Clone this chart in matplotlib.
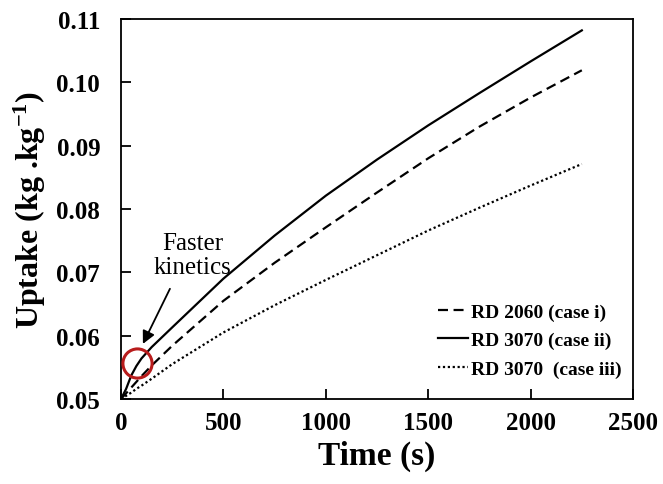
# Uptake vs time for three RD cases
import matplotlib
matplotlib.use("Agg")
import matplotlib.pyplot as plt

plt.rcParams["font.family"] = "Liberation Serif"
plt.rcParams["mathtext.fontset"] = "custom"
plt.rcParams["mathtext.rm"] = "Liberation Serif:bold"
plt.rcParams["mathtext.it"] = "Liberation Serif:bold"
plt.rcParams["mathtext.bf"] = "Liberation Serif:bold"

# ---------------- data ----------------
t = [0, 25, 50, 75, 100, 150, 250, 500, 750, 1000, 1250, 1500, 1750, 2000, 2250]

uptake_case_i = [0.0500, 0.0509, 0.0518, 0.0527, 0.0536, 0.0553, 0.0584, 0.0655,
                 0.0715, 0.0771, 0.0826, 0.0880, 0.0930, 0.0976, 0.1019]
uptake_case_ii = [0.0500, 0.0516, 0.0537, 0.0552, 0.0564, 0.0582, 0.0613, 0.0690,
                  0.0758, 0.0821, 0.0878, 0.0932, 0.0983, 0.1033, 0.1082]
uptake_case_iii = [0.0500, 0.0505, 0.0510, 0.0516, 0.0521, 0.0532, 0.0555, 0.0605,
                   0.0648, 0.0688, 0.0727, 0.0766, 0.0802, 0.0837, 0.0871]

labels = ["RD 2060 (case i)", "RD 3070 (case ii)", "RD 3070  (case iii)"]

x_ticks = [0, 500, 1000, 1500, 2000, 2500]
y_ticks = [0.05, 0.06, 0.07, 0.08, 0.09, 0.10, 0.11]

circle_pt = (78, 0.0557)

# ---------------- figure ----------------
fig = plt.figure(figsize=(6.63, 4.85), dpi=100)
ax = fig.add_axes([0.1825, 0.1753, 0.7723, 0.7835])

ax.plot(t, uptake_case_i, color="black", lw=1.6, dashes=(4.5, 2.5), label=labels[0])
ax.plot(t, uptake_case_ii, color="black", lw=1.6, label=labels[1])
ax.plot(t, uptake_case_iii, color="black", lw=1.6, dashes=(1, 1.2), label=labels[2])

# red circle marking the fast initial uptake
ax.plot(*circle_pt, "o", ms=21, mfc="none", mec="#b81c1c", mew=2.2, zorder=5)

ax.annotate("", xy=(107, 0.0587), xytext=(239, 0.0674),
            arrowprops=dict(arrowstyle="-|>", color="black", lw=1.3,
                            mutation_scale=19, shrinkA=0, shrinkB=0))
ax.text(351, 0.0727, "Faster\nkinetics", ha="center", va="center",
        fontsize=18, linespacing=1.1)

ax.set_xlim(0, 2500)
ax.set_ylim(0.05, 0.11)
ax.set_xticks(x_ticks)
ax.set_yticks(y_ticks)
ax.set_yticklabels([f"{v:.2f}" for v in y_ticks])

ax.tick_params(direction="in", length=7, width=1.3, labelsize=18)
ax.tick_params(axis="x", pad=9)
ax.tick_params(axis="y", pad=15)
for lab in ax.get_xticklabels() + ax.get_yticklabels():
    lab.set_fontweight("bold")
for sp in ax.spines.values():
    sp.set_linewidth(1.3)

ax.set_xlabel("Time (s)", fontsize=24, fontweight="bold", labelpad=4)
ax.set_ylabel(r"Uptake (kg .kg$^{-1}$)", fontsize=23, fontweight="bold", labelpad=6)

leg = ax.legend(loc="lower right", frameon=False, handlelength=1.55,
                handletextpad=0.15, labelspacing=0.55,
                prop={"size": 14, "weight": "bold"},
                bbox_to_anchor=(1.012, 0.01))

fig.savefig("out.png", dpi=100)
